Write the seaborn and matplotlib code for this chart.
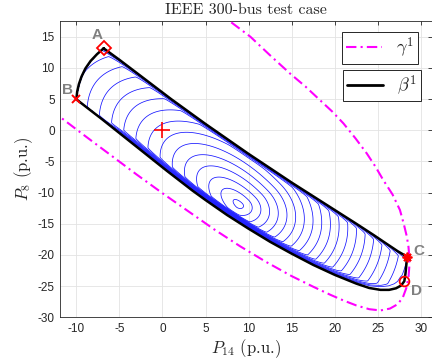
import numpy as np
import pandas as pd
import matplotlib
matplotlib.use("Agg")
import matplotlib.pyplot as plt
import seaborn as sns
from matplotlib.path import Path
from matplotlib.patches import PathPatch
from matplotlib.lines import Line2D

# ---------------- data ----------------
# gamma^1 (magenta dash-dot) curve
gamma_x = [-13.0, -11.86, -9.0, -6.0, -3.0, 0.0, 3.0, 6.0, 9.0, 12.0, 15.0, 17.5,
           19.5, 21.0, 22.5, 24.0, 25.3, 26.4, 27.3, 27.9, 28.3, 28.55, 28.65, 28.65,
           28.55, 28.35, 28.0, 27.56, 26.7, 25.63, 24.7, 23.7, 22.4, 21.0, 19.7, 18.3,
           16.6, 14.8, 12.5, 10.2, 7.7, 6.6]
gamma_y = [3.3, 2.1, -0.9, -4.0, -7.1, -10.1, -13.0, -15.9, -18.6, -21.1, -23.4, -25.1,
           -26.4, -27.3, -28.1, -28.7, -28.9, -28.6, -27.9, -26.8, -25.3, -23.6, -21.8, -20.4,
           -18.7, -17.0, -15.0, -12.8, -10.3, -8.0, -5.8, -3.7, -1.3, 1.1, 3.0, 4.8,
           7.0, 9.1, 12.0, 15.0, 17.6, 18.6]

# beta^1 (black) boundary pieces
top_x = [-6.83, -5.0, -3.0, -1.0, 1.0, 3.0, 5.0, 7.5, 10.0, 12.5, 15.0, 17.5, 20.0,
         22.5, 24.5, 26.0, 27.3, 28.4]                      # A -> C
top_y = [13.14, 11.3, 9.2, 7.1, 5.0, 3.0, 1.0, -1.4, -3.8, -6.1, -8.4, -10.6, -12.8,
         -15.0, -16.8, -18.2, -19.4, -20.3]
right_x = [28.4, 28.3, 28.2, 28.07]                          # C -> D
right_y = [-20.3, -21.6, -23.0, -24.2]
bottom_x = [28.07, 27.7, 27.1, 26.3, 25.3, 24.0, 22.5, 20.0, 17.5, 15.0, 12.5, 10.0, 7.5,
            5.0, 3.5, 2.0, 0.5, -1.0, -2.5, -4.0, -5.5, -7.0, -8.5, -10.0]   # D -> B
bottom_y = [-24.2, -24.9, -25.35, -25.6, -25.6, -25.3, -24.6, -23.2, -21.6, -19.8, -17.9,
            -15.8, -13.6, -11.2, -9.7, -8.1, -6.5, -4.85, -3.2, -1.55, 0.1, 1.75, 3.35, 4.96]
left_x = [-10.0, -9.9, -9.7, -9.4, -8.95, -8.35, -7.6, -6.83]  # B -> A
left_y = [4.96, 6.2, 7.4, 8.6, 9.9, 11.1, 12.2, 13.14]

# contour field: centre, orientation, axis scales (upper-left, lower-right, minor), ring radii
c_center = (8.9, -12.0)
c_theta_deg = -55.0
c_axis_left = 2.1
c_axis_right = 1.2
c_axis_minor = 0.9
c_radii = [0.5, 1.5, 2.5, 3.5, 4.5, 5.5, 6.5, 7.5, 8.5, 9.5, 10.5, 11.5, 12.5,
           13.5, 14.5, 15.5, 16.5, 17.5, 18.5, 19.5]
band_px_top = 4.0
band_px_bottom = 6.5
band_gain = 5.0

# marked points
pt_A = (-6.83, 13.14)
pt_B = (-10.0, 4.96)
pt_C = (28.4, -20.3)
pt_D = (28.07, -24.2)
pt_O = (0.0, 0.0)

x_ticks = [-10, -5, 0, 5, 10, 15, 20, 25, 30]
y_ticks = [-30, -25, -20, -15, -10, -5, 0, 5, 10, 15]

# ---------------- figure ----------------
sns.set_style("white")
plt.rcParams["mathtext.fontset"] = "cm"
plt.rcParams["font.family"] = ["Liberation Sans", "DejaVu Sans"]

W, H = 432, 360
fig = plt.figure(figsize=(W / 100, H / 100), dpi=100)
L_px, R_px, T_px, B_px = 60.3, 432.0, 20.7, 317.3
ax = fig.add_axes([L_px / W, 1 - B_px / H, (R_px - L_px) / W, (B_px - T_px) / H])
xlim = (-11.86, 31.28)
ylim = (-30.0, 17.57)
ax.set_xlim(*xlim)
ax.set_ylim(*ylim)
sx = (R_px - L_px) / (xlim[1] - xlim[0])
sy = (B_px - T_px) / (ylim[1] - ylim[0])

ax.grid(True, color="#e3e3e3", lw=0.6, zorder=0)
ax.set_axisbelow(True)

beta_x = top_x + right_x[1:] + bottom_x[1:] + left_x[1:]
beta_y = top_y + right_y[1:] + bottom_y[1:] + left_y[1:]

# contour field inside beta^1 region
gx = np.linspace(-10.8, 29.2, 700)
gy = np.linspace(-26.6, 14.2, 700)
X, Y = np.meshgrid(gx, gy)
th = np.deg2rad(c_theta_deg)
u = np.array([np.cos(th), np.sin(th)])
v = np.array([-np.sin(th), np.cos(th)])
DX, DY = X - c_center[0], Y - c_center[1]
U = DX * u[0] + DY * u[1]
V = DX * v[0] + DY * v[1]
Q = (U / np.where(U < 0, c_axis_left, c_axis_right)) ** 2 + (V / c_axis_minor) ** 2

poly = np.column_stack([beta_x, beta_y])
path = Path(poly)
inside = path.contains_points(np.column_stack([X.ravel(), Y.ravel()])).reshape(X.shape)
Xp, Yp = X * sx, Y * sy


def edge_distance(ex, ey):
    d = np.full(X.shape, np.inf)
    for i in range(len(ex) - 1):
        x0, x1 = ex[i] * sx, ex[i + 1] * sx
        y0, y1 = ey[i] * sy, ey[i + 1] * sy
        ddx, ddy = x1 - x0, y1 - y0
        t = np.clip(((Xp - x0) * ddx + (Yp - y0) * ddy) / (ddx * ddx + ddy * ddy), 0, 1)
        d = np.minimum(d, np.hypot(Xp - x0 - t * ddx, Yp - y0 - t * ddy))
    return d


d_top = edge_distance(top_x, top_y)
d_bot = edge_distance(bottom_x, bottom_y)
sgn = np.where(inside, -1.0, 1.0)
taper = 0.15 + 0.85 * 0.5 * (1 + np.tanh((U + 19.0) / 2.5))
pen = (np.maximum(0, sgn * d_top + band_px_top) ** 2
       + np.maximum(0, sgn * d_bot + band_px_bottom * taper) ** 2)
F = Q + band_gain * pen

cs = ax.contour(X, Y, F, levels=[r * r for r in c_radii], colors="#1414ff",
                linewidths=0.55, zorder=2)
clip = PathPatch(path, transform=ax.transData, facecolor="none", edgecolor="none")
ax.add_patch(clip)
cs.set_clip_path(clip)

# gamma^1 and beta^1 curves
df_g = pd.DataFrame({"x": gamma_x, "y": gamma_y})
df_b = pd.DataFrame({"x": beta_x, "y": beta_y})
sns.lineplot(data=df_g, x="x", y="y", sort=False, estimator=None, ax=ax,
             color="#ff00ff", lw=1.5, zorder=3)
ax.lines[-1].set_dashes([5, 2, 1, 2])
sns.lineplot(data=df_b, x="x", y="y", sort=False, estimator=None, ax=ax,
             color="black", lw=1.8, zorder=4)

# markers
ax.plot(*pt_A, marker="D", ms=7, mfc="none", mec="red", mew=1.3, zorder=5)
ax.plot(*pt_B, marker="x", ms=6, mec="red", mew=1.4, zorder=5)
ax.plot(*pt_C, marker=(8, 2, 0), ms=7, mec="red", mew=1.3, zorder=5)
ax.plot(*pt_D, marker="o", ms=7, mfc="none", mec="red", mew=1.3, zorder=5)
ax.plot(*pt_O, marker="+", ms=11, mec="red", mew=1.2, zorder=5)

lab_kw = dict(color="#808080", fontsize=11, fontweight="bold", ha="center", va="center", zorder=6)
ax.text(-7.57, 15.3, "A", **lab_kw)
ax.text(-11.0, 6.45, "B", **lab_kw)
ax.text(29.8, -19.4, "C", **lab_kw)
ax.text(29.5, -25.8, "D", **lab_kw)

# axes styling
ax.set_xticks(x_ticks)
ax.set_yticks(y_ticks)
ax.set_xticklabels([str(t) for t in x_ticks])
ax.set_yticklabels([str(t) for t in y_ticks])
ax.tick_params(direction="in", length=3, width=0.6, top=True, right=True,
               labelsize=8.5, colors="#262626", pad=4)
for s in ax.spines.values():
    s.set_color("#262626")
    s.set_linewidth(0.6)

ax.set_title("IEEE 300-bus test case", fontsize=11.5, family="cmr10",
             color="#262626", pad=5)
ax.set_xlabel(r"$P_{14}$ (p.u.)", fontsize=12, family="cmr10", color="#262626", labelpad=2)
ax.set_ylabel(r"$P_{8}$ (p.u.)", fontsize=12, family="cmr10", color="#262626", labelpad=2)

# two separate legend boxes
leg_kw = dict(loc="upper left", frameon=True, fancybox=False, framealpha=1,
              edgecolor="#262626", fontsize=13, handlelength=2.0, borderpad=0.2,
              borderaxespad=0, handletextpad=0.8)
h1 = Line2D([], [], color="#ff00ff", lw=1.5, dashes=[5, 2, 1, 2])
leg1 = ax.legend([h1], [r"$\gamma^{\mathbf{1}}$"], bbox_to_anchor=(0.758, 0.961), **leg_kw)
leg1.get_frame().set_linewidth(0.7)
ax.add_artist(leg1)
h2 = Line2D([], [], color="black", lw=2.0)
leg2 = ax.legend([h2], [r"$\beta^{\mathbf{1}}$"], bbox_to_anchor=(0.761, 0.834), **leg_kw)
leg2.get_frame().set_linewidth(0.7)

fig.savefig("out.png", dpi=100)
